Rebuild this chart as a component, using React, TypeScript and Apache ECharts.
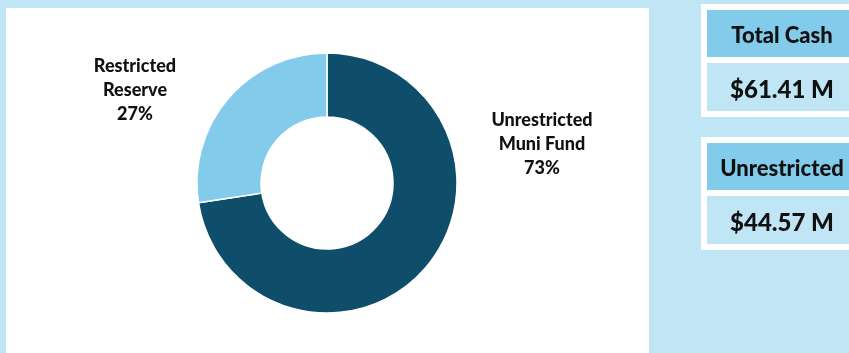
import React, { useEffect, useRef } from "react";
import * as echarts from "echarts";

const categories = ["Unrestricted\nMuni Fund", "Restricted\nReserve"];
const values = [44.57, 16.84];
const percentLabels = ["73%", "27%"];
const cardTitles = ["Total Cash", "Unrestricted"];
const cardValues = ["$61.41 M", "$44.57 M"];

const BG = "#c0e5f4";
const HEAD = "#82cbea";
const DARK = "#0f4e6a";
const LIGHT = "#82cbea";
const FONT = "Lato, 'Noto Sans', sans-serif";

export default function App() {
  const ref = useRef<HTMLDivElement>(null);
  useEffect(() => {
    if (!ref.current) return;
    const chart = echarts.init(ref.current, undefined, { renderer: "svg" });
    const labelPos = [
      { x: 542, y: 143 },
      { x: 135, y: 89 },
    ];
    const cardTops = [4, 137];
    const graphics: any[] = [
      { type: "rect", z: -10, shape: { x: 0, y: 0, width: 849, height: 353 }, style: { fill: BG } },
      { type: "rect", z: -9, shape: { x: 6, y: 8, width: 643, height: 345 }, style: { fill: "#ffffff" } },
    ];
    cardTops.forEach((t, i) => {
      graphics.push(
        { type: "rect", z: -9, shape: { x: 701, y: t, width: 160, height: 113 }, style: { fill: "#ffffff" } },
        { type: "rect", z: -8, shape: { x: 707, y: t + 6, width: 150, height: 47 }, style: { fill: HEAD } },
        { type: "rect", z: -8, shape: { x: 707, y: t + 59, width: 150, height: 48 }, style: { fill: BG } },
        {
          type: "text", z: -7, x: 782, y: t + 30,
          style: { text: cardTitles[i], fill: "#111", font: `900 22px ${FONT}`, textAlign: "center", textVerticalAlign: "middle" },
        },
        {
          type: "text", z: -7, x: 782, y: t + 84,
          style: { text: cardValues[i], fill: "#111", font: `900 24px ${FONT}`, textAlign: "center", textVerticalAlign: "middle" },
        }
      );
    });
    chart.setOption({
      animation: false,
      graphic: graphics,
      series: [
        {
          type: "pie",
          center: [327, 183],
          radius: [66, 130],
          startAngle: 90,
          clockwise: true,
          itemStyle: { borderColor: "#ffffff", borderWidth: 1.5 },
          labelLine: { show: false },
          label: {
            show: true,
            position: "outside",
            formatter: (p: any) => `${p.name}\n${percentLabels[p.dataIndex]}`,
            fontFamily: FONT,
            fontWeight: 900,
            fontSize: 18,
            lineHeight: 24,
            color: "#111",
            align: "center",
          },
          labelLayout: (p: any) => ({
            x: labelPos[p.dataIndex].x,
            y: labelPos[p.dataIndex].y,
            align: "center",
            verticalAlign: "middle",
          }),
          data: categories.map((c, i) => ({
            name: c,
            value: values[i],
            itemStyle: { color: i === 0 ? DARK : LIGHT },
          })),
        },
      ],
    });
    return () => chart.dispose();
  }, []);
  return <div ref={ref} style={{ position: "fixed", left: 0, top: 0, width: 849, height: 353 }} />;
}
